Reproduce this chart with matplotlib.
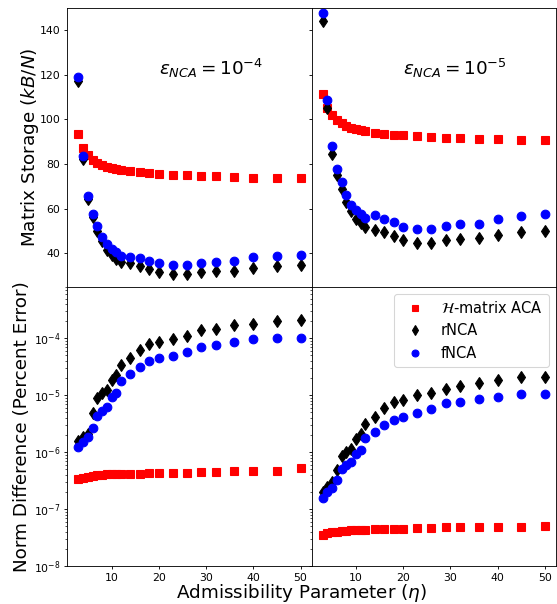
# ---------------------------------------------------
# Memoria y error de NCA vs ACA en funcion de eta
# ---------------------------------------------------

import numpy as np
import matplotlib
matplotlib.use("Agg")
import matplotlib.pyplot as plt

# ---------------------------------------------------
# 1. Datos
# ---------------------------------------------------
eta = [3, 4, 5, 6, 7, 8, 9, 10, 11, 12, 14, 16, 18, 20, 23, 26, 29, 32, 36, 40, 45, 50]

# almacenamiento (kB/N), eps = 1e-4
aca_mem_4 = [93.5, 87.4, 84.2, 82.0, 80.5, 79.4, 78.7, 78.1, 77.6, 77.3, 76.7,
             76.3, 76.0, 75.7, 75.3, 75.0, 74.6, 74.5, 74.2, 74.0, 73.8, 73.6]
rnca_mem_4 = [117.2, 82.1, 64.2, 56.2, 50.2, 45.4, 41.7, 39.4, 37.5, 36.0, 35.5,
              34.2, 32.8, 31.5, 31.0, 30.7, 31.7, 32.1, 32.2, 33.6, 34.3, 34.8]
fnca_mem_4 = [119.1, 83.6, 65.5, 57.7, 52.2, 47.4, 44.1, 42.0, 40.5, 39.0, 38.5,
              37.9, 36.7, 35.5, 34.9, 34.9, 35.8, 36.3, 36.6, 38.2, 39.0, 39.4]

# almacenamiento (kB/N), eps = 1e-5
aca_mem_5 = [111.2, 105.2, 101.9, 99.7, 98.2, 97.1, 96.4, 95.8, 95.3, 94.9, 94.1,
             93.7, 93.2, 92.9, 92.5, 92.2, 91.9, 91.7, 91.4, 91.3, 91.0, 90.8]
rnca_mem_5 = [144.3, 105.2, 84.7, 75.2, 68.7, 63.0, 58.8, 55.5, 53.5, 51.7, 50.5,
              49.5, 47.7, 46.2, 44.8, 44.8, 46.0, 46.6, 46.8, 48.3, 49.8, 50.2]
fnca_mem_5 = [147.6, 108.7, 88.1, 77.9, 71.9, 66.0, 61.9, 59.5, 57.6, 55.9, 57.0,
              55.5, 54.0, 51.7, 51.1, 51.1, 52.3, 53.2, 53.2, 55.5, 56.7, 57.6]

# diferencia de norma, eps = 1e-4
aca_err_4 = [3.31e-7, 3.54e-7, 3.69e-7, 3.84e-7, 3.94e-7, 4.0e-7, 4.05e-7, 4.11e-7,
             4.11e-7, 4.17e-7, 4.11e-7, 4.17e-7, 4.22e-7, 4.22e-7, 4.28e-7, 4.34e-7,
             4.46e-7, 4.52e-7, 4.64e-7, 4.7e-7, 4.7e-7, 5.23e-7]
rnca_err_4 = [1.58e-6, 1.86e-6, 2.1e-6, 4.8e-6, 9.1e-6, 1.1e-5, 1.22e-5, 1.85e-5,
              2.26e-5, 3.4e-5, 4.57e-5, 6.2e-5, 7.8e-5, 8.7e-5, 9.9e-5, 1.11e-4,
              1.38e-4, 1.48e-4, 1.69e-4, 1.81e-4, 1.99e-4, 2.07e-4]
fnca_err_4 = [1.21e-6, 1.52e-6, 1.86e-6, 2.61e-6, 4.31e-6, 5.35e-6, 6.2e-6, 9.2e-6,
              1.11e-5, 1.8e-5, 2.33e-5, 3.18e-5, 3.94e-5, 4.45e-5, 4.95e-5, 5.67e-5,
              7.13e-5, 7.63e-5, 8.5e-5, 9.87e-5, 1.03e-4, 1.03e-4]

# diferencia de norma, eps = 1e-5
aca_err_5 = [3.47e-8, 3.72e-8, 3.87e-8, 3.98e-8, 4.09e-8, 4.14e-8, 4.2e-8, 4.26e-8,
             4.26e-8, 4.31e-8, 4.37e-8, 4.37e-8, 4.37e-8, 4.43e-8, 4.61e-8, 4.67e-8,
             4.74e-8, 4.74e-8, 4.8e-8, 4.93e-8, 4.8e-8, 5.07e-8]
rnca_err_5 = [2.01e-7, 2.46e-7, 3.01e-7, 4.83e-7, 8.63e-7, 1.01e-6, 1.13e-6, 1.69e-6,
              2.07e-6, 3.07e-6, 4.07e-6, 5.87e-6, 7.69e-6, 8.23e-6, 1.01e-5, 1.11e-5,
              1.30e-5, 1.47e-5, 1.61e-5, 1.85e-5, 2.06e-5, 2.06e-5]
fnca_err_5 = [1.57e-7, 2.01e-7, 2.36e-7, 3.22e-7, 4.96e-7, 5.92e-7, 6.77e-7, 9.23e-7,
              1.09e-6, 1.74e-6, 2.25e-6, 2.95e-6, 3.71e-6, 4.19e-6, 4.92e-6, 5.63e-6,
              7.19e-6, 7.69e-6, 8.57e-6, 9.42e-6, 1.05e-5, 1.05e-5]

labels = [r'$\mathcal{H}$-matrix ACA', 'rNCA', 'fNCA']
eps_text = [r'$\epsilon_{NCA} = 10^{-4}$', r'$\epsilon_{NCA} = 10^{-5}$']

# ---------------------------------------------------
# 2. Figura 2x2 sin espacio entre paneles
# ---------------------------------------------------
fig, axs = plt.subplots(2, 2, figsize=(557 / 78, 604 / 78), dpi=78,
                        sharex=True, sharey='row')
fig.subplots_adjust(left=0.121, right=0.998, top=0.987, bottom=0.063,
                    wspace=0, hspace=0)

mem = [(aca_mem_4, rnca_mem_4, fnca_mem_4), (aca_mem_5, rnca_mem_5, fnca_mem_5)]
err = [(aca_err_4, rnca_err_4, fnca_err_4), (aca_err_5, rnca_err_5, fnca_err_5)]

for j in range(2):
    for i, data in enumerate([mem[j], err[j]]):
        ax = axs[i, j]
        ax.plot(eta, data[0], 's', color='r', ms=8, label=labels[0])
        ax.plot(eta, data[1], 'd', color='k', ms=8, label=labels[1])
        ax.plot(eta, data[2], 'o', color='b', ms=8, label=labels[2])
        ax.tick_params(which='major', length=3)
    axs[0, j].text(20, 120, eps_text[j], fontsize=17)

axs[0, 0].set_ylim(25, 150)
axs[1, 0].set_yscale('log')
axs[1, 0].set_ylim(1e-8, 8e-4)

axs[0, 0].set_ylabel(r'Matrix Storage ($kB/N$)', fontsize=17, labelpad=-1)
axs[1, 0].set_ylabel('Norm Difference (Percent Error)', fontsize=17, labelpad=2)
fig.text(0.542, 0.0094, r'Admissibility Parameter ($\eta$)', fontsize=17,
         ha='center', va='baseline')

axs[1, 1].legend(loc='upper right', fontsize=13.5, markerscale=0.8)

plt.savefig("out.png", facecolor='white')
plt.close()
